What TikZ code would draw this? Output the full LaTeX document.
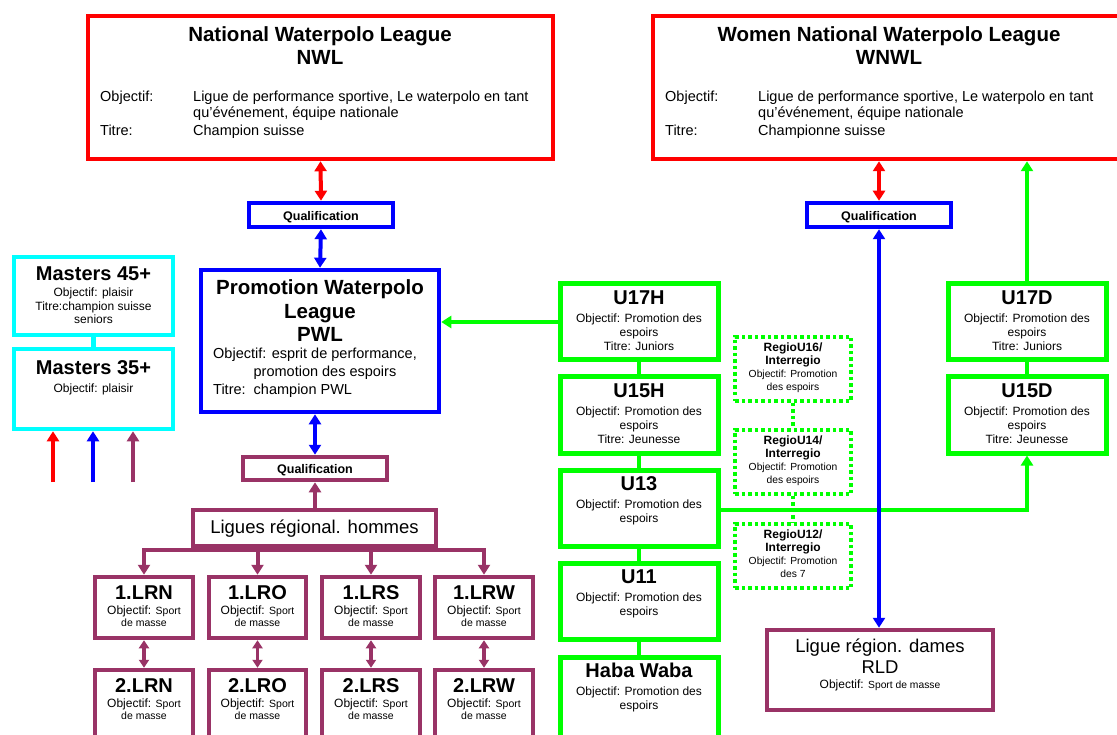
\documentclass[tikz,border=0pt]{standalone}
\usepackage{fontspec}
\setmainfont{Liberation Sans}
\usetikzlibrary{arrows.meta,calc}
\definecolor{cred}{RGB}{255,0,0}
\definecolor{cblue}{RGB}{0,0,255}
\definecolor{cgreen}{RGB}{0,255,0}
\definecolor{ccyan}{RGB}{0,255,255}
\definecolor{cplum}{RGB}{153,51,102}
\newcommand\ttl{\fontsize{20.5}{24}\bfseries\selectfont}
\newcommand\gttl{\fontsize{20}{24}\bfseries\selectfont}
\newcommand\bdy{\fontsize{14.5}{17}\selectfont}
\newcommand\sml{\fontsize{12}{14}\selectfont}
\newcommand\xsb{\fontsize{10.5}{12}\selectfont}
\newcommand\rgl{\fontsize{10.3}{12}\selectfont}
\newcommand\qf{\fontsize{12.5}{14}\bfseries\selectfont}
\newcommand\rtl{\fontsize{12}{14}\bfseries\selectfont}
\newcommand\lgt{\fontsize{18.5}{22}\selectfont}
\tikzset{
  bigtip/.tip={Triangle[width=12pt,length=10pt]},
  smalltip/.tip={Triangle[width=10pt,length=8pt]},
}
\begin{document}
\begin{tikzpicture}[x=1pt,y=-1pt,
  txt/.style={inner sep=0pt, anchor=base},
  txtw/.style={inner sep=0pt, anchor=base west},
  bx/.style={draw, line width=4.5pt, fill=white, inner sep=0pt},
  redbox/.style={bx, draw=cred},
  bluebox/.style={bx, draw=cblue},
  plumbox/.style={bx, draw=cplum},
  greenbox/.style={bx, draw=cgreen, line width=5pt},
  cyanbox/.style={bx, draw=ccyan},
  dotbox/.style={draw=cgreen, line width=3.5pt, dash pattern=on 3.5pt off 3pt, fill=white, inner sep=0pt},
  conn/.style={line width=4pt},
  thinconn/.style={line width=3.5pt},
]
\useasboundingbox (0,0) rectangle (1117,735);
\clip (0,0) rectangle (1117,735);
\fill[white] (0,0) rectangle (1117,735);

% ---------- boxes ----------
\node[redbox, minimum width=465pt, minimum height=143pt] (NWL) at (320.5,87.5) {};
\node[redbox, minimum width=472pt, minimum height=143pt] (WNWL) at (889,87.5) {};
\node[bluebox, minimum width=144pt, minimum height=24pt] (Q1) at (321,215) {};
\node[bluebox, minimum width=144pt, minimum height=24pt] (Q2) at (879,215) {};
\node[bluebox, minimum width=238pt, minimum height=142pt] (PWL) at (320,341) {};
\node[plumbox, minimum width=144pt, minimum height=23pt] (Q3) at (315,468.5) {};
\node[plumbox, minimum width=243pt, minimum height=36pt] (LRH) at (314.5,528) {};
\node[plumbox, minimum width=98pt, minimum height=61pt] (LRN1) at (144,607.5) {};
\node[plumbox, minimum width=97pt, minimum height=61pt] (LRO1) at (257.5,607.5) {};
\node[plumbox, minimum width=98pt, minimum height=61pt] (LRS1) at (371,607.5) {};
\node[plumbox, minimum width=98pt, minimum height=61pt] (LRW1) at (484,607.5) {};
\node[plumbox, minimum width=98pt, minimum height=80pt] (LRN2) at (144,710) {};
\node[plumbox, minimum width=97pt, minimum height=80pt] (LRO2) at (257.5,710) {};
\node[plumbox, minimum width=98pt, minimum height=80pt] (LRS2) at (371,710) {};
\node[plumbox, minimum width=98pt, minimum height=80pt] (LRW2) at (484,710) {};
\node[cyanbox, minimum width=159pt, minimum height=78pt] (M45) at (93.5,296) {};
\node[cyanbox, minimum width=159pt, minimum height=80pt] (M35) at (93.5,389) {};
\node[greenbox, minimum width=158pt, minimum height=76pt] (U17H) at (639,322) {};
\node[greenbox, minimum width=158pt, minimum height=76pt] (U15H) at (639,415) {};
\node[greenbox, minimum width=158pt, minimum height=76pt] (U13) at (639,508) {};
\node[greenbox, minimum width=158pt, minimum height=76pt] (U11) at (639,601) {};
\node[greenbox, minimum width=158pt, minimum height=88pt] (HW) at (639,701) {};
\node[greenbox, minimum width=158pt, minimum height=76pt] (U17D) at (1027,322) {};
\node[greenbox, minimum width=158pt, minimum height=76pt] (U15D) at (1027,415) {};
\node[dotbox, minimum width=116pt, minimum height=64pt] (R16) at (793,369) {};
\node[dotbox, minimum width=116pt, minimum height=64pt] (R14) at (793,462) {};
\node[dotbox, minimum width=116pt, minimum height=64pt] (R12) at (793,556) {};
\node[plumbox, minimum width=226pt, minimum height=80pt] (RLD) at (880,670) {};

% ---------- connectors ----------
\draw[conn, cred, {bigtip}-{bigtip}] (NWL.south) -- (Q1.north);
\draw[conn, cblue, {bigtip}-{bigtip}] (Q1.south) -- (PWL.north);
\draw[conn, cblue, {bigtip}-{bigtip}] (Q3.north |- PWL.south) -- (Q3.north);
\draw[conn, cplum, -{bigtip}] (LRH.north -| Q3.south) -- (Q3.south);
\coordinate (bus) at ($(LRH.south)+(0,2)$);
\foreach \b in {LRN1,LRO1,LRS1,LRW1}{
  \draw[conn, cplum, -{bigtip}] (LRH.south) -- (bus) -| (\b.north);
}
\draw[thinconn, cplum, {smalltip}-{smalltip}] (LRN1.south) -- (LRN2.north);
\draw[thinconn, cplum, {smalltip}-{smalltip}] (LRO1.south) -- (LRO2.north);
\draw[thinconn, cplum, {smalltip}-{smalltip}] (LRS1.south) -- (LRS2.north);
\draw[thinconn, cplum, {smalltip}-{smalltip}] (LRW1.south) -- (LRW2.north);
\draw[line width=4.5pt, ccyan] (M45.south) -- (M35.north);
\coordinate (ar) at (53,482);
\coordinate (ab) at (93,482);
\coordinate (ap) at (133,482);
\draw[conn, cred, -{bigtip}] (ar) -- (ar |- M35.south);
\draw[conn, cblue, -{bigtip}] (ab) -- (ab |- M35.south);
\draw[conn, cplum, -{bigtip}] (ap) -- (ap |- M35.south);
\draw[conn, cgreen, -{bigtip}] (U17H.west) -- (U17H.west -| PWL.east);
\draw[line width=4.5pt, cgreen] (U17H.south) -- (U15H.north);
\draw[line width=4.5pt, cgreen] (U15H.south) -- (U13.north);
\draw[line width=4.5pt, cgreen] (U13.south) -- (U11.north);
\draw[line width=4.5pt, cgreen] (U11.south) -- (HW.north);
\draw[line width=4.5pt, cgreen] (U17D.south) -- (U15D.north);
\draw[conn, cgreen, -{bigtip}] ($(U13.east)+(0,2)$) -| (U15D.south);
\draw[conn, cgreen, -{bigtip}] (U17D.north) -- (U17D.north |- WNWL.south);
\draw[line width=3.5pt, cgreen, dash pattern=on 3.5pt off 3pt] (R16.south) -- (R14.north);
\draw[line width=3.5pt, cgreen, dash pattern=on 3.5pt off 3pt] (R14.south) -- (R12.north);
\draw[conn, cred, {bigtip}-{bigtip}] (WNWL.south -| Q2.north) -- (Q2.north);
\draw[thinconn, cblue, {bigtip}-{bigtip}] (Q2.south) -- (Q2.south |- RLD.north);

% ---------- texts ----------
\node[txt] (NWLa) at (320,42) {\ttl National Waterpolo League};
\node[txt] (NWLb) at (320,65) {\ttl NWL};
\node[txtw] (NWLc) at (100,102) {\bdy Objectif:};
\node[txtw] (NWLd) at (193,102) {\bdy Ligue de performance sportive, Le waterpolo en tant};
\node[txtw] (NWLe) at (193,118) {\bdy qu'événement, équipe nationale};
\node[txtw] (NWLf) at (100,136) {\bdy Titre:};
\node[txtw] (NWLg) at (193,136) {\bdy Champion suisse};

\node[txt] (WNa) at (889,42) {\ttl Women National Waterpolo League};
\node[txt] (WNb) at (889,65) {\ttl WNWL};
\node[txtw] (WNc) at (665,102) {\bdy Objectif:};
\node[txtw] (WNd) at (758,102) {\bdy Ligue de performance sportive, Le waterpolo en tant};
\node[txtw] (WNe) at (758,118) {\bdy qu'événement, équipe nationale};
\node[txtw] (WNf) at (665,136) {\bdy Titre:};
\node[txtw] (WNg) at (758,136) {\bdy Championne suisse};

\node[txt] (Q1t) at (321,220.5) {\qf Qualification};
\node[txt] (Q2t) at (879,220.5) {\qf Qualification};
\node[txt] (Q3t) at (315,473) {\qf Qualification};

\node[txt] (PWa) at (320,295) {\ttl Promotion Waterpolo};
\node[txt] (PWb) at (320,319) {\ttl League};
\node[txt] (PWc) at (320,342) {\ttl PWL};
\node[txtw] (PWd) at (213,359) {\bdy Objectif: esprit de performance,};
\node[txt] (PWe) at (325,377) {\bdy promotion des espoirs};
\node[txtw] (PWf) at (213,395) {\bdy Titre:\ \ champion PWL};

\node[txt] (M45a) at (93.5,281) {\gttl Masters 45+};
\node[txt] (M45b) at (93.5,297) {\sml Objectif: plaisir};
\node[txt] (M45c) at (93.5,311) {\sml Titre:champion suisse};
\node[txt] (M45d) at (93.5,324) {\sml seniors};
\node[txt] (M35a) at (93.5,375) {\gttl Masters 35+};
\node[txt] (M35b) at (93.5,392) {\sml Objectif: plaisir};

\node[txt] (LRHt) at (314.5,533.5) {\lgt Ligues régional. hommes};

\foreach \b/\t in {LRN1/1.LRN,LRO1/1.LRO,LRS1/1.LRS,LRW1/1.LRW,LRN2/2.LRN,LRO2/2.LRO,LRS2/2.LRS,LRW2/2.LRW}{
  \node[txt] (\b a) at ($(\b.north)+(0,25)$) {\gttl \t};
  \node[txt] (\b b) at ($(\b.north)+(0,40)$) {\sml Objectif: \xsb Sport};
  \node[txt] (\b c) at ($(\b.north)+(0,52)$) {\xsb de masse};
}

\foreach \b/\t/\l in {U17H/U17H/Titre: Juniors,U15H/U15H/Titre: Jeunesse,U17D/U17D/Titre: Juniors,U15D/U15D/Titre: Jeunesse}{
  \node[txt] (\b a) at ($(\b.north)+(0,23)$) {\gttl \t};
  \node[txt] (\b b) at ($(\b.north)+(0,41)$) {\sml Objectif: Promotion des};
  \node[txt] (\b c) at ($(\b.north)+(0,55)$) {\sml espoirs};
  \node[txt] (\b d) at ($(\b.north)+(0,69)$) {\sml \l};
}
\foreach \b/\t in {U13/U13,U11/U11,HW/Haba Waba}{
  \node[txt] (\b a) at ($(\b.north)+(0,23)$) {\gttl \t};
  \node[txt] (\b b) at ($(\b.north)+(0,41)$) {\sml Objectif: Promotion des};
  \node[txt] (\b c) at ($(\b.north)+(0,55)$) {\sml espoirs};
}

\foreach \b/\t/\l in {R16/RegioU16/des espoirs,R14/RegioU14/des espoirs,R12/RegioU12/des 7}{
  \node[txt] (\b a) at ($(\b.north)+(0,16)$) {\rtl \t/};
  \node[txt] (\b b) at ($(\b.north)+(0,29)$) {\rtl Interregio};
  \node[txt] (\b c) at ($(\b.north)+(0,42)$) {\rgl Objectif: Promotion};
  \node[txt] (\b d) at ($(\b.north)+(0,55)$) {\rgl \l};
}

\node[txt] (RLDa) at (880,652) {\lgt Ligue région. dames};
\node[txt] (RLDb) at (880,673) {\lgt RLD};
\node[txt] (RLDc) at (880,688) {\sml Objectif: \rgl Sport de masse};
\end{tikzpicture}
\end{document}
